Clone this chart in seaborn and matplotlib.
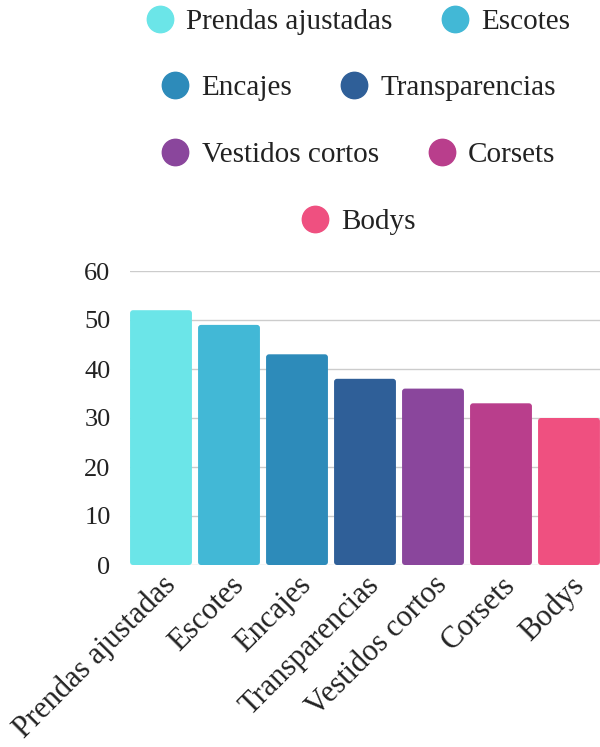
import matplotlib
matplotlib.use("Agg")
import matplotlib.pyplot as plt
from matplotlib.lines import Line2D
from matplotlib.patches import FancyBboxPatch
import seaborn as sns
import pandas as pd

categories = ["Prendas ajustadas", "Escotes", "Encajes", "Transparencias",
              "Vestidos cortos", "Corsets", "Bodys"]
values = [52, 49, 43, 38, 36, 33, 30]
colors = ["#6be5e8", "#42b8d6", "#2d8bba", "#2f5f98", "#8a469c", "#b93e8c", "#ef5080"]
y_ticks = [0, 10, 20, 30, 40, 50, 60]

sns.set_theme(style="white")
plt.rcParams["font.family"] = ["Liberation Serif", "DejaVu Serif"]

df = pd.DataFrame({"categoria": categories, "valor": values})

# 68 px per category, first bar edge at x=130
fig = plt.figure(figsize=(6, 7.47), dpi=100)
x0 = -0.5 + 3 / 68
ax = fig.add_axes([130 / 600, 1 - 565 / 747, (6.5 - x0) * 68 / 600, (565 - 271) / 747])

sns.barplot(data=df, x="categoria", y="valor", hue="categoria",
            palette=colors, dodge=False, legend=False, width=0.91,
            saturation=1, ax=ax, zorder=3)

ax.set_ylim(0, 60)
ax.set_xlim(x0, 6.5)

# swap plain rectangles for slightly rounded ones
px_x = 68.0            # pixels per x unit
px_y = 294.0 / 60      # pixels per y unit
for bar in list(ax.patches):
    x, y = bar.get_x(), bar.get_y()
    w, h = bar.get_width(), bar.get_height()
    fc = bar.get_facecolor()
    bar.remove()
    rb = FancyBboxPatch((x, y), w, h, boxstyle=f"round,pad=0,rounding_size={3 / px_x}",
                        mutation_aspect=px_x / px_y, facecolor=fc, edgecolor="none",
                        zorder=3)
    ax.add_patch(rb)

ax.set_yticks(y_ticks)
ax.yaxis.grid(True, color="#cccccc", linewidth=1, zorder=0)
ax.set_axisbelow(True)
for s in ax.spines.values():
    s.set_visible(False)
ax.set_xlabel("")
ax.set_ylabel("")
ax.tick_params(axis="y", length=0, pad=14, labelsize=19, labelcolor="#222222")
ax.tick_params(axis="x", length=0, pad=4, labelsize=22, labelcolor="#222222")
plt.setp(ax.get_xticklabels(), rotation=45, ha="right", rotation_mode="anchor")

# legend: one centered row per pair
rows = [[0, 1], [2, 3], [4, 5], [6]]
row_y = [1 - 22 / 747, 1 - 88 / 747, 1 - 155 / 747, 1 - 222 / 747]
for idx, yy in zip(rows, row_y):
    handles = [Line2D([0], [0], marker="o", linestyle="", markersize=19,
                      markerfacecolor=colors[i], markeredgecolor=colors[i])
               for i in idx]
    labels = [categories[i] for i in idx]
    leg = fig.legend(handles, labels, loc="center", bbox_to_anchor=(358 / 600, yy),
                     ncol=len(idx), frameon=False, fontsize=21, handletextpad=0.4,
                     columnspacing=1.65, handlelength=1.0)
    for t in leg.get_texts():
        t.set_color("#222222")

fig.savefig("out.png", dpi=100)
